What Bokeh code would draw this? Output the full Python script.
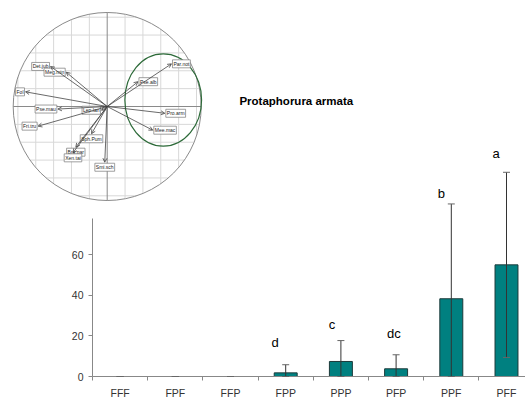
import math
from bokeh.plotting import figure
from bokeh.models import (Range1d, LinearAxis, FixedTicker, ColumnDataSource,
                          Whisker, TeeHead, Arrow, OpenHead)
from bokeh.core.properties import value
from bokeh.embed import file_html
from bokeh.resources import INLINE

# ---------------- data ----------------
categories = ["FFF", "FPF", "FFP", "FPP", "PPP", "PFP", "PPF", "PFF"]
means = [0, 0, 0, 1.8, 7.4, 3.8, 38.3, 55.0]
errors = [0, 0, 0, 4.0, 10.3, 6.9, 46.7, 45.6]
letters = ["", "", "", "d", "c", "dc", "b", "a"]
y_ticks = [0, 20, 40, 60]
title_text = "Protaphorura armata"

pca_names = ["Par.not", "Pse.alb", "Pro.arm", "Mee.mac", "Det.jub", "Meg.min", "Fol",
             "Pse.mau", "Lep.lan", "Fri.tru", "Sph.Pum", "Bra.par", "Xen.tai", "Smi.sch"]
pca_x = [0.684, 0.327, 0.613, 0.485, -0.603, -0.436, -0.869,
         -0.525, -0.061, -0.735, -0.167, -0.334, -0.364, -0.026]
pca_y = [0.454, 0.264, -0.072, -0.252, 0.426, 0.365, 0.156,
         -0.027, -0.040, -0.209, -0.290, -0.433, -0.493, -0.593]

# hand-drawn group ellipse (PCA units)
group_center = (0.596, 0.069)
group_size = (0.816, 0.983)

# ---------------- layout constants ----------------
W, H = 525, 412
X0, PXU = 92.0, 55.2      # pixel of category boundary 0, pixels per category
Y0, PYU = 376.0, 2.03     # pixel of value 0, pixels per unit
CX, CY, R = 106.7, 106.0, 94.0  # PCA circle centre and radius (pixels)
letter_dx = [0, 0, 0, -0.19, -0.16, -0.04, -0.18, -0.19]
letter_y = [0, 0, 0, 16.6, 25.6, 21.0, 90.0, 109.9]
grid_step = 0.19
font = value("Liberation Sans")

p = figure(width=W, height=H, output_backend="svg", toolbar_location=None,
           x_axis_location=None, y_axis_location=None,
           x_range=Range1d(-X0 / PXU, (W - X0) / PXU),
           y_range=Range1d(-(H - Y0) / PYU, Y0 / PYU),
           min_border=0, outline_line_color=None)
p.extra_x_ranges = {"px": Range1d(-CX / R, (W - CX) / R)}
p.extra_y_ranges = {"py": Range1d(-(H - CY) / R, CY / R)}
p.grid.visible = False
p.background_fill_color = "white"
p.border_fill_color = "white"

# ---------------- PCA correlation circle ----------------
gv = [k * grid_step for k in range(-6, 7) if k != 0 and abs(k * grid_step) < 1]
gx0, gy0, gx1, gy1 = [], [], [], []
for g in gv:
    h = math.sqrt(1 - g * g)
    gx0 += [g, -h]; gx1 += [g, h]
    gy0 += [-h, g]; gy1 += [h, g]
p.segment(x0=gx0, y0=gy0, x1=gx1, y1=gy1, line_color="#d8d8d8", line_width=1,
          x_range_name="px", y_range_name="py")
p.segment(x0=[-1, 0], y0=[0, -1], x1=[1, 0], y1=[0, 1], line_color="#8a8a8a",
          line_width=1, x_range_name="px", y_range_name="py")
p.ellipse(x=[0], y=[0], width=[2], height=[2], fill_color=None, line_color="#8a8a8a",
          line_width=1, x_range_name="px", y_range_name="py")
p.ellipse(x=[group_center[0]], y=[group_center[1]], width=[group_size[0]],
          height=[group_size[1]], fill_color=None, line_color="#2e6b3a", line_width=1.2,
          x_range_name="px", y_range_name="py")

n = len(pca_names)
arrow_src = ColumnDataSource(dict(x_start=[0] * n, y_start=[0] * n, x_end=pca_x, y_end=pca_y))
p.add_layout(Arrow(end=OpenHead(size=4, line_color="#444444", line_width=0.8),
                   source=arrow_src, x_start="x_start", y_start="y_start",
                   x_end="x_end", y_end="y_end", line_color="#444444", line_width=0.8,
                   x_range_name="px", y_range_name="py"))

aligns, bases, xos, yos = [], [], [], []
for x, y in zip(pca_x, pca_y):
    if abs(x) >= abs(y):
        aligns.append("left" if x > 0 else "right")
        bases.append("middle")
        xos.append(1 if x > 0 else -1)
        yos.append(0)
    else:
        aligns.append("center")
        bases.append("top" if y < 0 else "bottom")
        xos.append(0)
        yos.append(1 if y < 0 else -1)
lab_src = ColumnDataSource(dict(x=pca_x, y=pca_y, name=pca_names, align=aligns,
                                base=bases, xo=xos, yo=yos))
p.text(x="x", y="y", text="name", text_align="align", text_baseline="base",
       x_offset="xo", y_offset="yo", text_font=font, text_font_size="5px",
       text_color="#222222", background_fill_color="white", border_line_color="#777777",
       border_line_width=0.7, padding=1, source=lab_src,
       x_range_name="px", y_range_name="py")

p.text(x=[(295.8 - CX) / R], y=[(CY - 100) / R], text=[title_text], text_font=font,
       text_font_size="11.5px", text_font_style="bold", text_align="center",
       text_baseline="middle", text_color="#000000", x_range_name="px", y_range_name="py")

# ---------------- bar chart ----------------
bx = [i + 0.5 for i, v in enumerate(means) if v > 0]
bt = [v for v in means if v > 0]
p.vbar(x=bx, top=bt, bottom=0, width=0.416, fill_color="#008080",
       line_color="#1c3a3a", line_width=1)

wsrc = ColumnDataSource(dict(x=[i + 0.5 for i in range(len(categories))],
                             upper=[m + e for m, e in zip(means, errors)],
                             lower=[max(0, m - e) for m, e in zip(means, errors)]))
p.add_layout(Whisker(source=wsrc, base="x", upper="upper", lower="lower",
                     dimension="height", line_color="#333333", line_width=1,
                     upper_head=TeeHead(size=7, line_color="#666666", line_width=1),
                     lower_head=TeeHead(size=7, line_color="#666666", line_width=1),
                     level="overlay"))

p.text(x=[i + 0.5 + dx for i, dx in enumerate(letter_dx)], y=letter_y, text=letters,
       text_font=font, text_font_size="13px", text_align="center",
       text_baseline="alphabetic", text_color="#000000")

yaxis = LinearAxis(fixed_location=0, bounds=(0, 78), ticker=FixedTicker(ticks=y_ticks),
                   axis_line_color="#888888", major_tick_line_color="#888888",
                   major_tick_in=0, major_tick_out=4, minor_tick_line_color=None,
                   major_label_standoff=5, major_label_text_font="Liberation Sans",
                   major_label_text_font_size="10.5px", major_label_text_color="#333333")
p.add_layout(yaxis, "left")

xaxis = LinearAxis(fixed_location=0, bounds=(0, len(categories)),
                   ticker=FixedTicker(ticks=[i + 0.5 for i in range(len(categories))],
                                      minor_ticks=list(range(len(categories) + 1))),
                   major_label_overrides={i + 0.5: c for i, c in enumerate(categories)},
                   axis_line_color="#888888", major_tick_line_color=None,
                   major_tick_in=0, major_tick_out=4,
                   minor_tick_line_color="#888888", minor_tick_in=0, minor_tick_out=4,
                   major_label_standoff=6, major_label_text_font="Liberation Sans",
                   major_label_text_font_size="10.5px", major_label_text_color="#333333")
p.add_layout(xaxis, "below")

open("out.html", "w").write(file_html(p, INLINE))
